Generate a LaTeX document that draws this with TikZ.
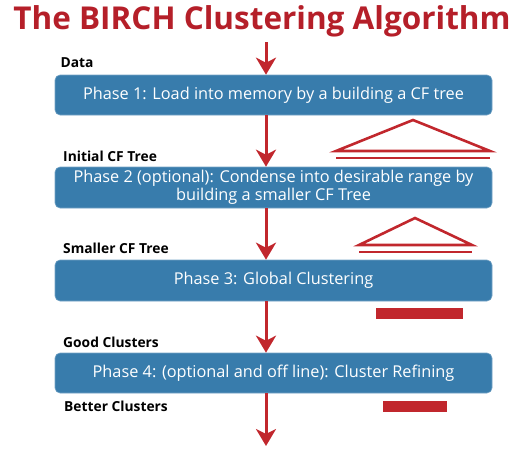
\documentclass[tikz,border=0pt]{standalone}
\usepackage{fontspec}
\setmainfont{Open Sans}
\usetikzlibrary{arrows.meta}
\definecolor{birchred}{HTML}{C1272D}
\definecolor{titlered}{HTML}{B51F29}
\definecolor{boxblue}{HTML}{387CAC}
\tikzset{
  phase/.style={fill=boxblue, draw=boxblue!70!white, line width=0.6pt, rounded corners=5pt, minimum width=437pt, text=white, align=center, font=\fontsize{16.3}{18.5}\selectfont, inner sep=0pt},
  lbl/.style={anchor=base west, font=\bfseries\fontsize{13.8}{16}\selectfont, text=black, inner sep=0pt},
  flow/.style={draw=birchred, line width=3pt, -{Stealth[length=17pt, width=20pt, inset=5pt]}},
  tri/.style={draw=birchred, line width=2.6pt, line join=miter},
  bar/.style={fill=birchred, draw=none}
}
\begin{document}
\begin{tikzpicture}[x=1pt, y=-1pt]
\useasboundingbox (0,0) rectangle (532,450);
\node[anchor=base, font=\fontsize{31.5}{34}\selectfont\bfseries, text=titlered, inner sep=0pt] (title) at (262,29.5) {The BIRCH Clustering Algorithm};
\coordinate (start) at (266,42);
\node[phase, minimum height=40pt] (p1) at (273.5,95) {Phase 1: Load into memory by a building a CF tree};
\node[phase, minimum height=41pt] (p2) at (273.5,187.5) {Phase 2 (optional): Condense into desirable range by\\building a smaller CF Tree};
\node[phase, minimum height=41pt] (p3) at (273.5,280.5) {Phase 3: Global Clustering};
\node[phase, minimum height=40pt] (p4) at (273.5,373) {Phase 4: (optional and off line): Cluster Refining};
\coordinate (end) at (266,446);
\draw[flow] (start) -- (start |- p1.north);
\draw[flow] (p1.south -| start) -- (p2.north -| start);
\draw[flow] (p2.south -| start) -- (p3.north -| start);
\draw[flow] (p3.south -| start) -- (p4.north -| start);
\draw[flow] (p4.south -| start) -- (end);
\node[lbl] (ldata) at (60.5,67.5) {Data};
\node[lbl] (linit) at (63,161.5) {Initial CF Tree};
\node[lbl] (lsmall) at (63,253) {Smaller CF Tree};
\node[lbl] (lgood) at (63,347) {Good Clusters};
\node[lbl] (lbetter) at (64,411.5) {Better Clusters};
% tree icons
\draw[tri] (336,151) -- (413,120) -- (490,151) -- cycle;
\draw[tri] (336,158) -- (490,158);
\draw[tri] (359,245) -- (415,218) -- (472,245) -- cycle;
\draw[tri] (359,252) -- (472,252);
% cluster bars
\fill[bar] (376,308) rectangle (463,319);
\fill[bar] (383,401) rectangle (447,412);
\end{tikzpicture}
\end{document}
